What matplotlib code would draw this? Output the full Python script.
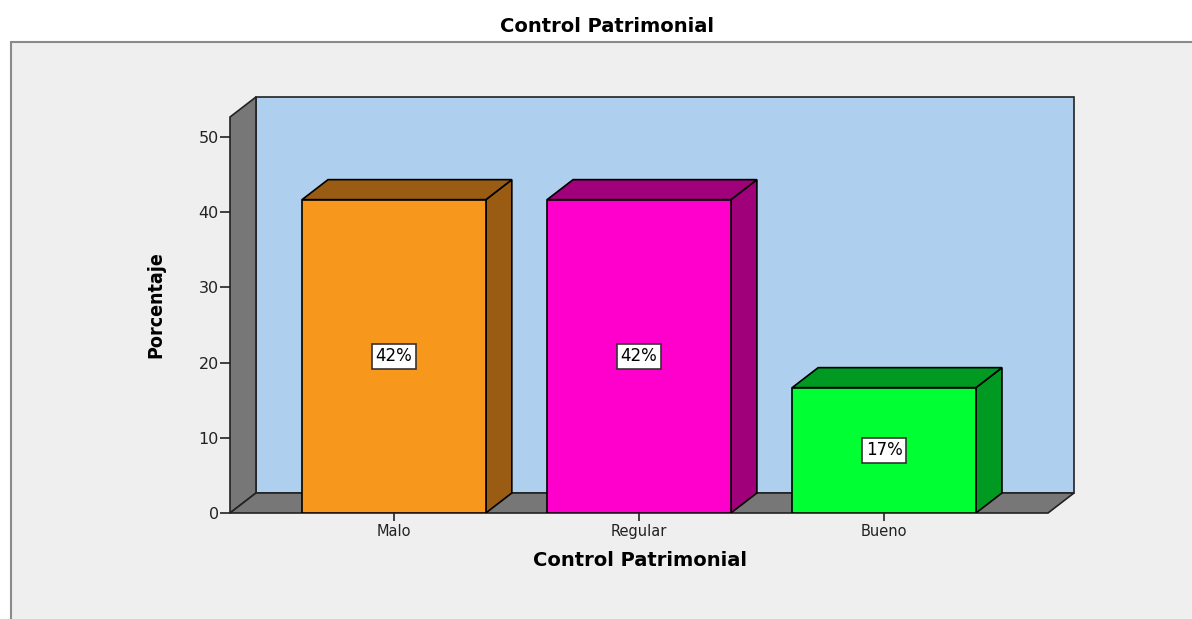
import matplotlib.pyplot as plt
from matplotlib.patches import Rectangle, Polygon

categorias = ['Malo', 'Regular', 'Bueno']
porcentajes = [41.67, 41.67, 16.67]
etiquetas = ['42%', '42%', '17%']
colores = ['#f7981d', '#ff00cc', '#00ff33']
colores_osc = ['#9a5b13', '#a0007a', '#009a22']

# geometria del "3D" (en unidades de datos)
DX = 0.106
DY = 2.66
ANCHO = 0.75
X0, X1 = -0.669, 2.669
TOPE = 52.66
GRIS = '#777777'
AZUL = '#aecfee'

fig = plt.figure(figsize=(11.92, 6.19), dpi=100)
fig.patch.set_facecolor('white')

# panel gris de fondo
fig.patches.append(Rectangle((11 / 1192, -0.05), 1.2, (619 - 42) / 619 + 0.05, transform=fig.transFigure,
                             facecolor='#efefef', edgecolor='#8a8a8a', linewidth=1.5, zorder=-5))

ax = fig.add_axes([230 / 1192, (619 - 513) / 619, 844 / 1192, 416 / 619])
ax.set_xlim(X0, X1 + DX)
ax.set_ylim(0, TOPE + DY)
ax.set_facecolor('none')
for s in ax.spines.values():
    s.set_visible(False)

lw = 1.2
# pared del fondo
ax.add_patch(Rectangle((X0 + DX, DY), X1 - X0, TOPE, facecolor=AZUL, edgecolor='#222222', lw=lw,
                       zorder=1, clip_on=False))
# pared izquierda
ax.add_patch(Polygon([(X0, 0), (X0 + DX, DY), (X0 + DX, TOPE + DY), (X0, TOPE)],
                     facecolor=GRIS, edgecolor='#222222', lw=lw, zorder=2, clip_on=False))
# piso
ax.add_patch(Polygon([(X0, 0), (X1, 0), (X1 + DX, DY), (X0 + DX, DY)],
                     facecolor=GRIS, edgecolor='#222222', lw=lw, zorder=2, clip_on=False))

for i, (v, c, co, et) in enumerate(zip(porcentajes, colores, colores_osc, etiquetas)):
    l, r = i - ANCHO / 2, i + ANCHO / 2
    ax.add_patch(Polygon([(r, 0), (r + DX, DY), (r + DX, v + DY), (r, v)],
                         facecolor=co, edgecolor='black', lw=lw, zorder=3))
    ax.add_patch(Polygon([(l, v), (r, v), (r + DX, v + DY), (l + DX, v + DY)],
                         facecolor=co, edgecolor='black', lw=lw, zorder=3))
    ax.add_patch(Rectangle((l, 0), ANCHO, v, facecolor=c, edgecolor='black', lw=lw, zorder=4))
    ax.text(i, v / 2, et, ha='center', va='center', fontsize=12, family='DejaVu Sans', zorder=5,
            bbox=dict(boxstyle='square,pad=0.2', facecolor='white', edgecolor='#333333', lw=1.2))

ax.set_yticks([0, 10, 20, 30, 40, 50])
ax.set_xticks(range(len(categorias)))
ax.set_xticklabels(categorias)
ax.tick_params(axis='y', direction='out', length=7, width=1.2, color='#222222',
               labelsize=11.5, labelcolor='#222222', pad=1)
ax.tick_params(axis='x', direction='out', length=6, width=1.2, color='#222222',
               labelsize=10.5, labelcolor='#222222', pad=2)
for t in ax.get_xticklabels() + ax.get_yticklabels():
    t.set_family('DejaVu Sans')

ax.set_ylabel('Porcentaje', fontsize=14, fontweight='bold', fontstretch='condensed',
              family='DejaVu Sans', labelpad=24)
ax.set_xlabel('Control Patrimonial', fontsize=14, fontweight='bold', family='DejaVu Sans')
ax.xaxis.set_label_coords((640 - 230) / 844, -(551 - 513) / 416)

fig.text(607 / 1192, 1 - 26 / 619, 'Control Patrimonial', ha='center', va='center',
         fontsize=14, fontweight='bold', family='DejaVu Sans')

fig.savefig('out.png', dpi=100)
